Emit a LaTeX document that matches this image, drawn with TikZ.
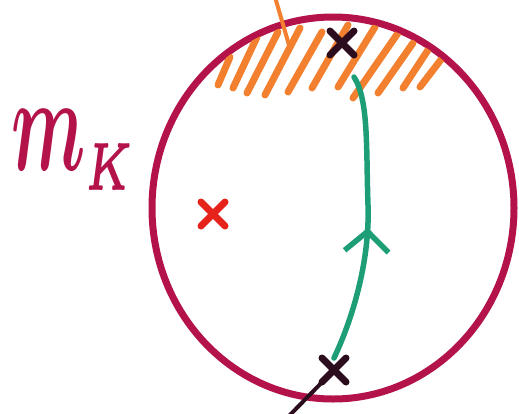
\documentclass[tikz,border=0pt]{standalone}
\usepackage{amsmath}
\usepackage{xcolor}
\usetikzlibrary{shapes.misc,decorations.markings,arrows.meta}

\definecolor{kcrimson}{HTML}{B3134A}
\definecolor{korange}{HTML}{F2802E}
\definecolor{kgreen}{HTML}{1E9E76}
\definecolor{kink}{HTML}{2B0D1E}
\definecolor{kred}{HTML}{E5231B}

\begin{document}
\begin{tikzpicture}[x=1pt,y=-1pt,line cap=round,line join=round,
        pen/.style={line width=7pt},
        crossmark/.style={cross out,draw,line width=7pt,minimum size=17pt,inner sep=0pt},
        flow/.style={draw=kgreen,line width=5.5pt,postaction={decorate},
            decoration={markings,mark=at position 0.47 with {\arrow{Straight Barb[length=20pt,width=44pt,line width=5.5pt]}}}}]
            \useasboundingbox (0,0) rectangle (519,413);

            \node[text=kcrimson,scale=7.2,yscale=1.9] (mk) at (74,150) {$\boldsymbol{m}_{\scriptscriptstyle\boldsymbol{K}}$};

            \coordinate (c) at (333,208);
            \draw[pen,kcrimson] (c) ellipse [x radius=181,y radius=191];

            \begin{scope}
                \clip (c) ellipse [x radius=178,y radius=188];
                \foreach \xa/\ya/\xb/\yb in {218/85/230/57, 233/88/257/37, 247/93/278/32,
                        265/95/300/28, 288/92/322/32, 312/88/348/25, 338/87/375/27,
                        353/98/398/33, 378/93/413/43, 403/88/430/47, 420/87/443/57}
                    \draw[pen,korange] (\xa,\ya) -- (\xb,\yb);
            \end{scope}

            \coordinate (otop) at (275,-3);
            \coordinate (oend) at (289,45);
            \draw[korange,line width=4pt] (otop) -- (oend);

            \node[crossmark,draw=kink] (xtop) at (342,43) {};
            \node[crossmark,draw=kink] (xbot) at (334,370) {};
            \node[crossmark,draw=kred] (xred) at (213,214) {};

            \coordinate (gtop) at (354,77);
            \coordinate (tail) at (287,418);

            \draw[flow] (xbot.north) .. controls (352,320) and (370,262) .. (368,205)
                .. controls (366,150) and (369,100) .. (gtop);
            \draw[kink,line width=4pt] (xbot.center) -- (tail);
        \end{tikzpicture}
\end{document}
